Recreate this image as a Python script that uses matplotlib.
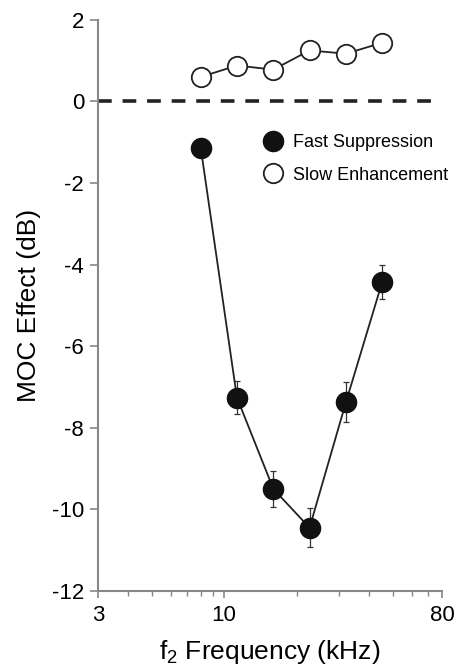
import matplotlib
matplotlib.use("Agg")
import matplotlib.pyplot as plt
from matplotlib.ticker import FixedLocator, NullFormatter, LogLocator
import numpy as np

plt.rcParams['font.family'] = ['Liberation Sans', 'DejaVu Sans']
plt.rcParams['mathtext.fontset'] = 'custom'
plt.rcParams['mathtext.rm'] = 'Liberation Sans'

freqs = [8.0, 11.3, 16.0, 22.6, 32.0, 45.25]
fast_suppression = [-1.14, -7.26, -9.5, -10.45, -7.37, -4.42]
fast_err = [0.15, 0.4, 0.44, 0.48, 0.5, 0.42]
slow_enhancement = [0.6, 0.88, 0.78, 1.25, 1.17, 1.44]
xticks = [3, 10, 80]
yticks = [2, 0, -2, -4, -6, -8, -10, -12]

fig = plt.figure(figsize=(4.58, 6.68), dpi=100)
ax = fig.add_axes([0.214, 0.1153, 0.751, 0.855])

ax.axhline(0, color='#222222', lw=2.6, ls=(0, (3.8, 3.0)), xmin=0, xmax=0.98, zorder=1)

ax.errorbar(freqs, fast_suppression, yerr=fast_err, fmt='none', ecolor='#333333',
            elinewidth=0.9, capsize=2.5, capthick=0.9, zorder=2)
ax.plot(freqs, fast_suppression, color='#222222', lw=1.3, marker='o', ms=14.5,
        mfc='#111111', mec='#111111', label='Fast Suppression', zorder=3)
ax.plot(freqs, slow_enhancement, color='#222222', lw=1.3, marker='o', ms=14,
        mfc='white', mec='#222222', mew=1.3, label='Slow Enhancement', zorder=3)

ax.set_xscale('log')
ax.set_xlim(3, 80)
ax.set_ylim(-12, 2)
ax.xaxis.set_major_locator(FixedLocator(xticks))
ax.set_xticklabels([str(t) for t in xticks])
ax.xaxis.set_minor_locator(LogLocator(base=10, subs=np.arange(2, 10)))
ax.xaxis.set_minor_formatter(NullFormatter())
ax.set_yticks(yticks)
ax.set_yticklabels([str(t) for t in yticks])

for s in ['top', 'right']:
    ax.spines[s].set_visible(False)
for s in ['left', 'bottom']:
    ax.spines[s].set_color('#888888')
    ax.spines[s].set_linewidth(1.5)

ax.tick_params(axis='y', which='major', length=6, width=1.2, color='#888888',
               labelsize=16, pad=4)
ax.tick_params(axis='x', which='major', length=5, width=1.2, color='#888888',
               labelsize=16, pad=5)
ax.tick_params(axis='x', which='minor', length=3.5, width=1.0, color='#888888')

ax.set_ylabel('MOC Effect (dB)', fontsize=19, labelpad=8)
ax.set_xlabel('f$_\\mathregular{2}$ Frequency (kHz)', fontsize=19, labelpad=9)

leg = ax.legend(loc='upper left', bbox_to_anchor=(0.47, 0.812), frameon=False,
                fontsize=13, handlelength=0.7, handletextpad=0.75,
                labelspacing=0.85, markerscale=1.0, borderaxespad=0)
for h in leg.legend_handles:
    h.set_linestyle('none')

fig.savefig('out.png', dpi=100)
